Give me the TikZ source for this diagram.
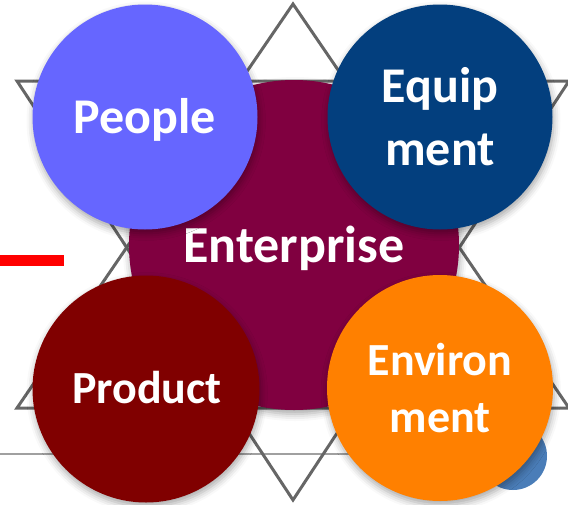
\documentclass[tikz,border=0pt]{standalone}
\usepackage{fontspec}
\setmainfont{Carlito}
\usetikzlibrary{shadows.blur}
\definecolor{cpeople}{HTML}{6666FF}
\definecolor{cequip}{HTML}{033F7E}
\definecolor{cprod}{HTML}{800000}
\definecolor{cenv}{HTML}{FF8000}
\definecolor{cent}{HTML}{800040}
\definecolor{cstar}{HTML}{666666}
\definecolor{crule}{HTML}{A0A0A0}
\definecolor{csmall}{HTML}{4A7DB8}
\begin{document}
\begin{tikzpicture}[x=1pt,y=-1pt,
  ball/.style={circle, minimum size=#1, inner sep=0pt,
    blur shadow={shadow xshift=1pt, shadow yshift=-4pt, shadow blur radius=7pt, shadow opacity=35}},
  lbl/.style={text=white, font=\bfseries\fontsize{#1}{#1}\selectfont, anchor=base, inner sep=0pt},
  starline/.style={draw=cstar, line width=3pt, line join=miter}]
\useasboundingbox (0,0) rectangle (568,504);
% horizontal rule and red mark
\coordinate (r1) at (0,454);
\coordinate (r2) at (520,454);
\draw[crule, line width=2.5pt] (r1) -- (r2);
\coordinate (m1) at (0,260);
\coordinate (m2) at (64,260);
\draw[red, line width=11pt] (m1) -- (m2);
% star
\coordinate (ua) at (293,4);
\coordinate (ul) at (17,408);
\coordinate (ur) at (569,408);
\coordinate (dl) at (17,81);
\coordinate (dr) at (569,81);
\coordinate (da) at (293,500);
\draw[starline] (ua) -- (ul) -- (ur) -- cycle;
\draw[starline] (dl) -- (dr) -- (da) -- cycle;
% small blue circle
\node[ball=68pt, fill=csmall, blur shadow={shadow opacity=0}] (small) at (513,456) {};
% enterprise
\node[ball=330pt, fill=cent] (ent) at (294,245) {};
\node[lbl=52] (entt) at (294,262) {Enterprise};
% people
\node[ball=225pt, fill=cpeople] (peo) at (145,117) {};
\node[lbl=50] (peot) at (145,133) {People};
% equipment
\node[ball=225pt, fill=cequip] (equ) at (440,117) {};
\node[lbl=50] (equt1) at (440,102) {Equip};
\node[lbl=50] (equt2) at (440,165) {ment};
% product
\node[ball=227pt, fill=cprod] (pro) at (146,389) {};
\node[lbl=46] (prot) at (147,403) {Product};
% environment
\node[ball=226pt, fill=cenv] (env) at (440,388) {};
\node[lbl=46] (envt1) at (440,375) {Environ};
\node[lbl=46] (envt2) at (440,432) {ment};
\end{tikzpicture}
\end{document}
